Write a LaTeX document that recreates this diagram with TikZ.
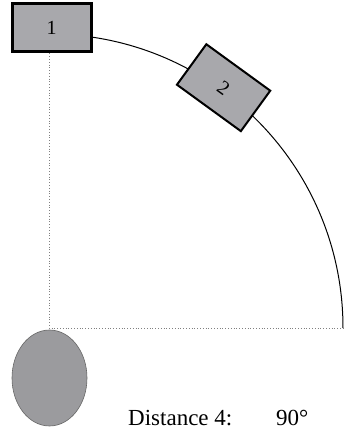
\documentclass[tikz,border=0pt]{standalone}
\usepackage{fontspec}
\setmainfont{Liberation Serif}
\usetikzlibrary{shapes.geometric}
\definecolor{boxgray}{RGB}{168,168,172}
\definecolor{ellgray}{RGB}{155,155,158}
\tikzset{
  boxnode/.style={draw=black, fill=boxgray, minimum width=79pt, minimum height=48pt, inner sep=0pt, font=\fontsize{20}{20}\selectfont},
  guide/.style={draw=gray, dotted, line width=0.8pt},
}
\begin{document}
\begin{tikzpicture}[x=1pt,y=1pt]
\useasboundingbox (0,0) rectangle (344,432);
\clip (0,0) rectangle (344,432);
\coordinate (c) at (49,104);
\coordinate (hend) at (344,104);
% arc
\draw[line width=1pt] (c) ++(90:294) arc[start angle=90,end angle=0,radius=294];
% boxes
\node[boxnode, line width=3pt] (b1) at (51.5,404) {1};
\node[boxnode, line width=2pt, rotate=-36, minimum height=50pt] (b2) at (223.6,344.3) {2};
% ellipse
\node[ellipse, draw=gray!80!black, line width=0.6pt, fill=ellgray, minimum width=75pt, minimum height=96pt, inner sep=0pt] (el) at (49.5,54) {};
% guides
\draw[guide] (b1.south -| c) -- (c) -- (hend);
% text
\node[anchor=base west, inner sep=0pt, font=\fontsize{23}{23}\selectfont] (t1) at (128,6) {Distance 4:};
\node[anchor=base west, inner sep=0pt, font=\fontsize{23}{23}\selectfont] (t2) at (276,6) {90°};
\end{tikzpicture}
\end{document}
